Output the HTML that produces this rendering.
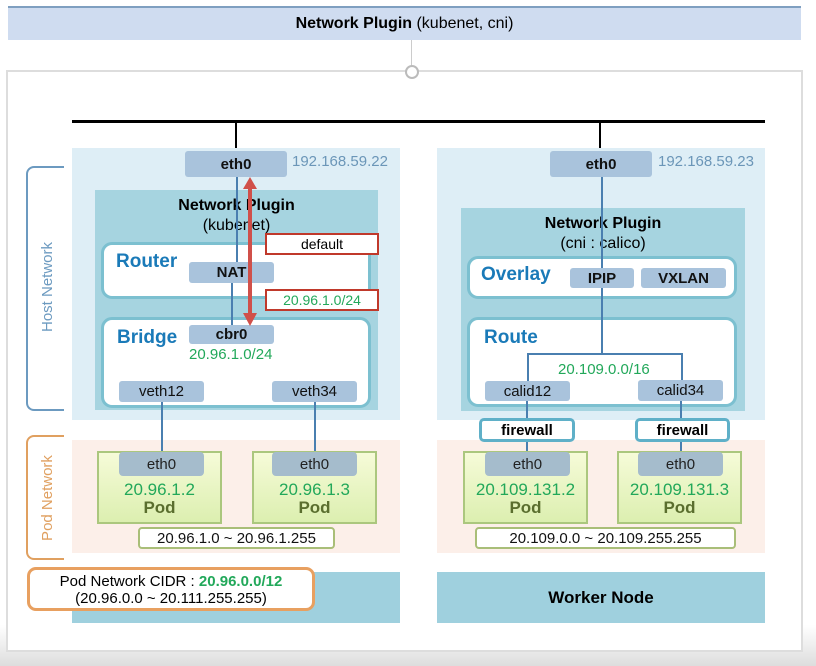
<!DOCTYPE html>
<html><head><meta charset="utf-8"><style>
*{box-sizing:border-box;margin:0;padding:0}
body{width:816px;height:666px;position:relative;background:#fff;font-family:"Liberation Sans","NanumGothic",sans-serif;overflow:hidden}
.a{position:absolute}
.c{display:flex;align-items:center;justify-content:center;white-space:nowrap}
.if{background:#a9c3dc;border-radius:3px;font-size:15px;color:#111}
.b{font-weight:bold}
.wb{background:#fff;border:3px solid #7cc0d0;border-radius:11px}
.ttl{font-weight:bold;color:#1a7ab8;font-size:19px}
.g{color:#22a85a}
.pod{background:linear-gradient(#f6fbd8,#dcefb0);border:2px solid #abc77e}
.pe{background:#a5bccc;border-radius:4px;font-size:15px;color:#222}
.rng{background:#fff;border:2px solid #a9be78;border-radius:4px;font-size:15px;color:#111}
.fw{background:#fff;border:3px solid #5fb0c8;border-radius:5px;font-weight:bold;font-size:15px}
.vl{background:#4a7fb0;width:2px}
</style></head><body>
<div class="a" style="left:0;top:625px;width:816px;height:41px;background:linear-gradient(#fff,#ddd)"></div>
<div class="a c" style="left:8px;top:6px;width:793px;height:34px;background:#cfdcf0;border-top:2px solid #7f9fc0;font-size:16px"><b>Network Plugin</b>&nbsp;(kubenet, cni)</div>
<div class="a" style="left:411px;top:40px;width:1px;height:26px;background:#ccc"></div>
<div class="a" style="left:6px;top:70px;width:797px;height:582px;border:2px solid #ddd;background:#fff"></div>
<div class="a" style="left:405px;top:65px;width:14px;height:14px;border:2px solid #bbb;border-radius:50%;background:#fff"></div>
<div class="a" style="left:72px;top:120px;width:693px;height:3px;background:#000"></div>
<div class="a" style="left:235px;top:121px;width:1.5px;height:32px;background:#000"></div>
<div class="a" style="left:599px;top:121px;width:1.5px;height:32px;background:#000"></div>

<!-- left node -->
<div class="a" style="left:72px;top:148px;width:328px;height:475px;background:#deeef6"></div>
<div class="a" style="left:72px;top:420px;width:328px;height:20px;background:#fff"></div>
<div class="a" style="left:72px;top:440px;width:328px;height:113px;background:#fcefe9"></div>
<div class="a" style="left:72px;top:553px;width:328px;height:19px;background:#fff"></div>
<div class="a" style="left:72px;top:572px;width:328px;height:51px;background:#9fd0de"></div>
<!-- right node -->
<div class="a" style="left:437px;top:148px;width:328px;height:475px;background:#deeef6"></div>
<div class="a" style="left:437px;top:420px;width:328px;height:20px;background:#fff"></div>
<div class="a" style="left:437px;top:440px;width:328px;height:113px;background:#fcefe9"></div>
<div class="a" style="left:437px;top:553px;width:328px;height:19px;background:#fff"></div>
<div class="a c b" style="left:437px;top:572px;width:328px;height:51px;background:#9fd0de;font-size:17px">Worker Node</div>

<!-- brackets -->
<div class="a" style="left:26px;top:166px;width:38px;height:245px;border:2px solid #6c9ac0;border-right:none;border-radius:8px 0 0 8px"></div>
<div class="a c" style="left:-53px;top:277px;width:200px;height:20px;transform:rotate(-90deg);color:#6c9ac0;font-size:15px;background:#fff;width:110px;left:-8px">Host Network</div>
<div class="a" style="left:26px;top:435px;width:38px;height:125px;border:2px solid #e0a060;border-right:none;border-radius:8px 0 0 8px"></div>
<div class="a c" style="left:-8px;top:488px;width:110px;height:20px;transform:rotate(-90deg);color:#e0a060;font-size:15px;background:#fff;width:96px;left:-1px">Pod Network</div>

<!-- left content -->
<div class="a c if b" style="left:185px;top:151px;width:102px;height:26px">eth0</div>
<div class="a" style="left:292px;top:153px;font-size:15px;color:#6b96b8">192.168.59.22</div>
<div class="a" style="left:95px;top:190px;width:283px;height:220px;background:#a6d4e0"></div>
<div class="a" style="left:95px;top:196px;width:283px;text-align:center;font-size:16px;line-height:20px"><b>Network Plugin</b><br>(kubenet)</div>
<div class="a wb" style="left:101px;top:242px;width:270px;height:57px"></div>
<div class="a ttl" style="left:116px;top:251px">Router</div>
<div class="a wb" style="left:101px;top:317px;width:270px;height:91px"></div>
<div class="a ttl" style="left:117px;top:327px">Bridge</div>
<div class="a vl" style="left:236px;top:177px;height:86px"></div>
<div class="a vl" style="left:231px;top:283px;height:43px"></div>
<div class="a c if b" style="left:189px;top:262px;width:85px;height:21px">NAT</div>
<div class="a c if b" style="left:189px;top:325px;width:85px;height:19px">cbr0</div>
<div class="a g" style="left:189px;top:346px;font-size:15px">20.96.1.0/24</div>
<div class="a c" style="left:265px;top:233px;width:114px;height:22px;border:2px solid #c0392b;background:#fff;font-size:14px">default</div>
<div class="a c g" style="left:265px;top:289px;width:114px;height:22px;border:2px solid #c0392b;background:#fff;font-size:14px">20.96.1.0/24</div>
<svg class="a" style="left:240px;top:175px" width="20" height="154"><line x1="10" y1="10" x2="10" y2="142" stroke="#d0504a" stroke-width="4"/><polygon points="3,14 10,2 17,14" fill="#d0504a"/><polygon points="3,138 10,151 17,138" fill="#d0504a"/></svg>
<div class="a c if" style="left:119px;top:381px;width:85px;height:21px">veth12</div>
<div class="a c if" style="left:272px;top:381px;width:85px;height:21px">veth34</div>
<div class="a vl" style="left:161px;top:402px;height:50px"></div>
<div class="a vl" style="left:314px;top:402px;height:50px"></div>

<div class="a pod" style="left:97px;top:451px;width:125px;height:73px"></div>
<div class="a c pe" style="left:119px;top:452px;width:85px;height:24px">eth0</div>
<div class="a g" style="left:97px;top:480px;width:125px;text-align:center;font-size:17px">20.96.1.2</div>
<div class="a b" style="left:97px;top:498px;width:125px;text-align:center;font-size:17px;color:#5a6e2e">Pod</div>
<div class="a pod" style="left:252px;top:451px;width:125px;height:73px"></div>
<div class="a c pe" style="left:272px;top:452px;width:85px;height:24px">eth0</div>
<div class="a g" style="left:252px;top:480px;width:125px;text-align:center;font-size:17px">20.96.1.3</div>
<div class="a b" style="left:252px;top:498px;width:125px;text-align:center;font-size:17px;color:#5a6e2e">Pod</div>
<div class="a c rng" style="left:138px;top:527px;width:197px;height:22px">20.96.1.0 ~ 20.96.1.255</div>

<div class="a" style="left:27px;top:567px;width:288px;height:44px;border:3px solid #e8a060;border-radius:9px;background:#fff;text-align:center;font-size:15px;line-height:17px;padding-top:3px">Pod Network CIDR : <b class="g">20.96.0.0/12</b><br>(20.96.0.0 ~ 20.111.255.255)</div>

<!-- right content -->
<div class="a c if b" style="left:550px;top:151px;width:102px;height:26px">eth0</div>
<div class="a" style="left:658px;top:153px;font-size:15px;color:#6b96b8">192.168.59.23</div>
<div class="a" style="left:461px;top:208px;width:284px;height:203px;background:#a6d4e0"></div>
<div class="a" style="left:461px;top:214px;width:284px;text-align:center;font-size:16px;line-height:20px"><b>Network Plugin</b><br>(cni : calico)</div>
<div class="a wb" style="left:467px;top:256px;width:270px;height:43px"></div>
<div class="a ttl" style="left:481px;top:264px">Overlay</div>
<div class="a wb" style="left:467px;top:317px;width:270px;height:90px"></div>
<div class="a ttl" style="left:484px;top:327px">Route</div>
<div class="a vl" style="left:601px;top:177px;height:177px"></div>
<div class="a" style="left:527px;top:353px;width:156px;height:30px;border:2px solid #4a7fb0;border-bottom:none"></div>
<div class="a c if b" style="left:570px;top:268px;width:64px;height:20px">IPIP</div>
<div class="a c if b" style="left:641px;top:268px;width:85px;height:20px">VXLAN</div>
<div class="a g" style="left:558px;top:361px;font-size:15px">20.109.0.0/16</div>
<div class="a c if" style="left:485px;top:381px;width:85px;height:20px">calid12</div>
<div class="a c if" style="left:638px;top:380px;width:85px;height:21px">calid34</div>
<div class="a vl" style="left:526px;top:401px;height:51px"></div>
<div class="a vl" style="left:680px;top:401px;height:51px"></div>
<div class="a c fw" style="left:479px;top:418px;width:96px;height:24px">firewall</div>
<div class="a c fw" style="left:635px;top:418px;width:95px;height:24px">firewall</div>

<div class="a pod" style="left:463px;top:451px;width:125px;height:73px"></div>
<div class="a c pe" style="left:485px;top:452px;width:85px;height:24px">eth0</div>
<div class="a g" style="left:463px;top:480px;width:125px;text-align:center;font-size:17px">20.109.131.2</div>
<div class="a b" style="left:463px;top:498px;width:125px;text-align:center;font-size:17px;color:#5a6e2e">Pod</div>
<div class="a pod" style="left:617px;top:451px;width:125px;height:73px"></div>
<div class="a c pe" style="left:638px;top:452px;width:85px;height:24px">eth0</div>
<div class="a g" style="left:617px;top:480px;width:125px;text-align:center;font-size:17px">20.109.131.3</div>
<div class="a b" style="left:617px;top:498px;width:125px;text-align:center;font-size:17px;color:#5a6e2e">Pod</div>
<div class="a c rng" style="left:475px;top:527px;width:261px;height:22px">20.109.0.0 ~ 20.109.255.255</div>
</body></html>
